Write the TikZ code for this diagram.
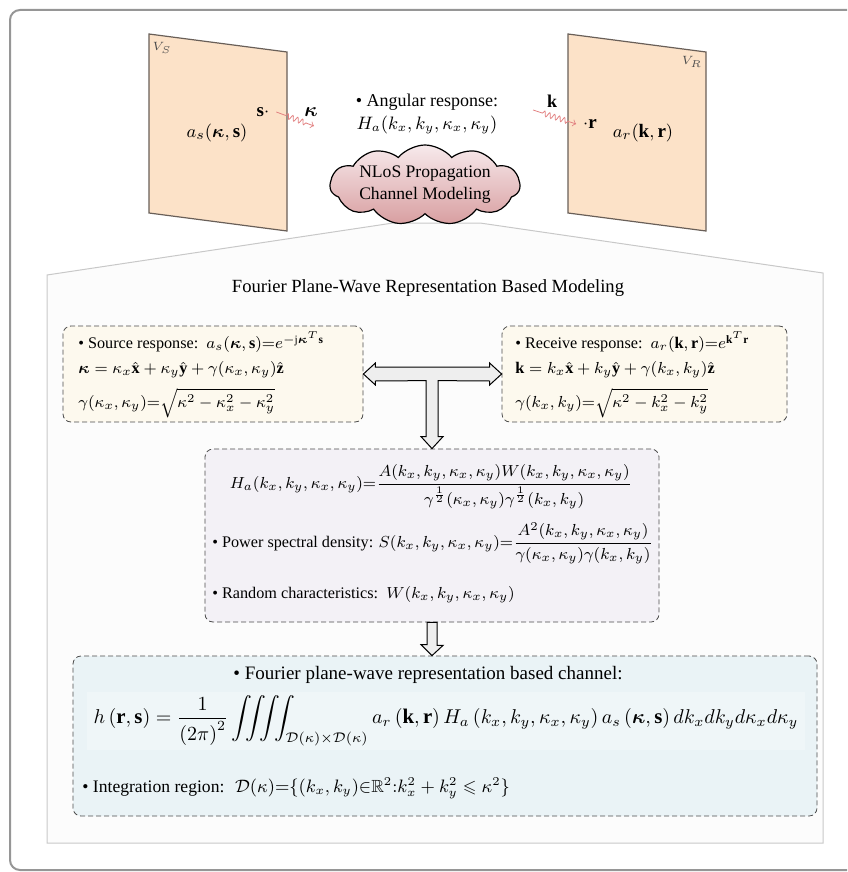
\documentclass[tikz,border=0pt]{standalone}
\usepackage{fontspec}
\setmainfont{Liberation Serif}
\usepackage{amsmath,amssymb,bm}
\usetikzlibrary{shapes.symbols,decorations.pathmorphing,calc}
\definecolor{screenfill}{RGB}{252,226,200}
\definecolor{screendraw}{RGB}{105,95,88}
\definecolor{wavecol}{RGB}{226,130,130}
\definecolor{cloudtop}{RGB}{247,234,236}
\definecolor{cloudbot}{RGB}{216,158,160}
\definecolor{framecol}{RGB}{150,150,150}
\definecolor{stagefill}{RGB}{252,252,252}
\definecolor{stagedraw}{RGB}{200,200,200}
\definecolor{respfill}{RGB}{253,249,238}
\definecolor{specfill}{RGB}{243,241,246}
\definecolor{chanfill}{RGB}{234,243,246}
\definecolor{eqfill}{RGB}{239,246,248}
\definecolor{blockfill}{RGB}{238,238,238}
\tikzstyle{screen} = [fill=screenfill,draw=screendraw,line width=0.6pt]
\tikzstyle{wave} = [wavecol,line width=0.4pt,->,decorate,decoration={
    snake,amplitude=1.3pt,segment length=2.6pt,pre length=5pt,post length=4pt
}]
\tikzstyle{dbox} = [draw=black!70,line width=0.4pt,dash pattern=on 2.5pt off 1.5pt,
    rounded corners=4pt,inner sep=0pt]
\tikzstyle{lineL} = [anchor=west,inner sep=0pt]
\tikzstyle{blockarrow} = [fill=blockfill,draw=black,line width=0.5pt,line join=miter]
\newcommand{\screenoutline}[1]{
	\draw[screen] (#1) -- ++(138,18) -- ++(0,179) -- ++(-138,-18) -- cycle;
}
\newcommand{\fs}[1]{\fontsize{#1}{#1}\selectfont}
\newcommand{\args}{k_x,k_y,\kappa_x,\kappa_y}

\begin{document}
\begin{tikzpicture}[x=0.5pt,y=-0.5pt]
	\useasboundingbox (0,0) rectangle (847,872);
	\draw[framecol,line width=1pt,rounded corners=5pt] (847,10) -- (10,10) -- (10,870) -- (847,870);

	\coordinate (scrS) at (149,34);
	\screenoutline{scrS};
	\coordinate (scrR) at (568,34);
	\screenoutline{scrR};

	\node(vs) at (162,48) {\fs{6.5}\color{black!70}$V_S$};
	\node(vr) at (692,62) {\fs{6.5}\color{black!70}$V_R$};
	\node(as) at (217,133) {\fs{9.5}$a_s(\bm{\kappa},\mathbf{s})$};
	\node(ar) at (643,133) {\fs{9.5}$a_r(\mathbf{k},\mathbf{r})$};

	\node(sdot) at (263,112) {\fs{9.5}$\mathbf{s}{\cdot}$};
	\node(kap) at (311,112) {\fs{10}$\bm{\kappa}$};
	\coordinate (kapend) at (314,126);
	\draw[wave] (sdot.east) -- (kapend);

	\node(kvec) at (552,101) {\fs{9}$\mathbf{k}$};
	\coordinate (kstart) at (533,110);
	\node(rdot) at (590,124) {\fs{9.5}${\cdot}\mathbf{r}$};
	\draw[wave] (kstart) -- (rdot.west);

	\node(ang) at (427,114) [align=center,font=\fontsize{9}{11.5}\selectfont] {\textbullet{} Angular response:\\ $H_a(\args)$};

	\draw[fill=stagefill,draw=stagedraw,line width=0.5pt] (47,275) -- (393,223) -- (480,223) -- (823,273) -- (823,843) -- (47,843) -- cycle;

	\node(nlos) at (425,185) [cloud,cloud puffs=11,cloud puff arc=100,cloud ignores aspect,draw=black,line width=0.6pt,
		top color=cloudtop,bottom color=cloudbot,align=center,inner sep=-20pt,
		minimum width=95pt,minimum height=40pt,
		font=\fontsize{8.8}{11}\selectfont] {NLoS Propagation\\Channel Modeling};

	\node(title) at (428,288) {\fs{9.3}Fourier Plane-Wave Representation Based Modeling};

	\node(src) [dbox,fill=respfill,minimum width=150pt,minimum height=48pt] at (213,374) {};
	\node(rcv) [dbox,fill=respfill,minimum width=142.5pt,minimum height=48pt] at (644.5,374) {};
	\node(spec) [dbox,fill=specfill,minimum width=227pt,minimum height=86.5pt] at (432,535.5) {};
	\node(chan) [dbox,fill=chanfill,minimum width=372pt,minimum height=80pt] at (445,736) {};

	\node(src1) [lineL] at (78,342) {\fs{8.1}\textbullet{} Source response:\, $a_s(\bm{\kappa},\mathbf{s}){=}e^{-\mathrm{j}\bm{\kappa}^T\mathbf{s}}$};
	\node(src2) [lineL] at (78,370) {\fs{8.1}$\bm{\kappa}=\kappa_x\hat{\mathbf{x}}+\kappa_y\hat{\mathbf{y}}+\gamma(\kappa_x,\kappa_y)\hat{\mathbf{z}}$};
	\node(src3) [lineL] at (78,403) {\fs{8.1}$\gamma(\kappa_x,\kappa_y){=}\sqrt{\kappa^2-\kappa_x^2-\kappa_y^2}$};

	\node(rcv1) [lineL] at (515,342) {\fs{8.1}\textbullet{} Receive response:\, $a_r(\mathbf{k},\mathbf{r}){=}e^{\mathbf{k}^T\mathbf{r}}$};
	\node(rcv2) [lineL] at (515,370) {\fs{8.1}$\mathbf{k}=k_x\hat{\mathbf{x}}+k_y\hat{\mathbf{y}}+\gamma(k_x,k_y)\hat{\mathbf{z}}$};
	\node(rcv3) [lineL] at (515,403) {\fs{8.1}$\gamma(k_x,k_y){=}\sqrt{\kappa^2-k_x^2-k_y^2}$};

	\draw[blockarrow] (src.east) -- ++(12,-11) -- ++(0,4) -- ($(rcv.west)+(-12,-7)$) -- ++(0,-4) -- (rcv.west)
		-- ++(-12,11) -- ++(0,-4) -- ($(spec.north)+(6,-68)$) -- ++(0,56) -- ++(5,0) -- (spec.north)
		-- ++(-11,-12) -- ++(5,0) -- ++(0,-56) -- ($(src.east)+(12,7)$) -- ++(0,4) -- cycle;

	\node(spec1) at (431,487) {\fs{8.2}$H_a(\args){=}\dfrac{A(\args)W(\args)}{\gamma^{\frac{1}{2}}(\kappa_x,\kappa_y)\gamma^{\frac{1}{2}}(k_x,k_y)}$};
	\node(spec2) [lineL] at (212,543) {\fs{8.1}\textbullet{} Power spectral density: $S(\args){=}\dfrac{A^2(\args)}{\gamma(\kappa_x,\kappa_y)\gamma(k_x,k_y)}$};
	\node(spec3) [lineL] at (212,595) {\fs{8.1}\textbullet{} Random characteristics:\, $W(\args)$};

	\draw[blockarrow] ($(spec.south)+(-5,0)$) -- ++(10,0) -- ++(0,23) -- ++(6,0) -- (spec.south |- chan.north)
		-- ++(-11,-11) -- ++(6,0) -- cycle;

	\node(chan1) at (428,675) {\fs{9.5}\textbullet{} Fourier plane-wave representation based channel:};
	\node(chan2) at (446,721) [fill=eqfill,inner sep=0pt,minimum width=359pt,minimum height=29pt] {\fs{10.4}$\displaystyle
		h\left(\mathbf{r},\mathbf{s}\right)=\frac{1}{\left(2\pi\right)^2}\iiiint_{\mathcal{D}(\kappa)\times\mathcal{D}(\kappa)}
		a_r\left(\mathbf{k},\mathbf{r}\right)H_a\left(\args\right)a_s\left(\bm{\kappa},\mathbf{s}\right)dk_xdk_yd\kappa_xd\kappa_y$};
	\node(chan3) [lineL] at (82,788) {\fs{8.8}\textbullet{} Integration region:\; $\mathcal{D}(\kappa){=}\{(k_x,k_y){\in}\mathbb{R}^2{:}k_x^2+k_y^2\leqslant\kappa^2\}$};
\end{tikzpicture}
\end{document}
